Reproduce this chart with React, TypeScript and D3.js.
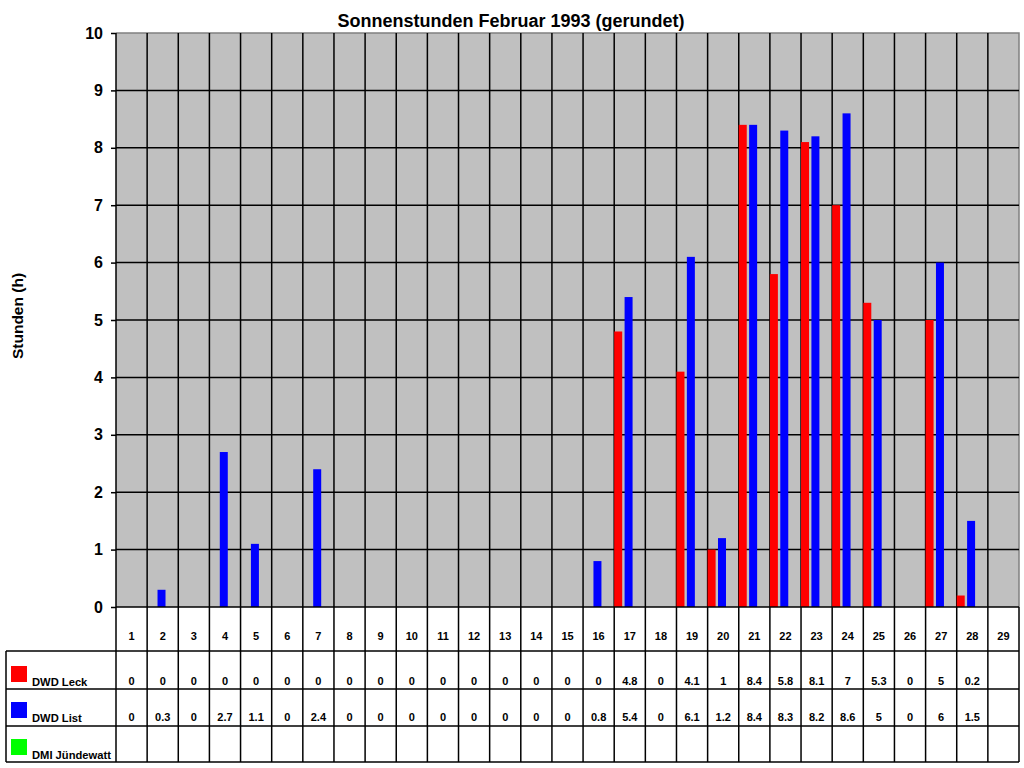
import React, { useEffect, useRef } from 'react';
import * as d3 from 'd3';

const days = ['1','2','3','4','5','6','7','8','9','10','11','12','13','14','15','16','17','18','19','20','21','22','23','24','25','26','27','28','29'];
const leck: (number | null)[] = [0,0,0,0,0,0,0,0,0,0,0,0,0,0,0,0,4.8,0,4.1,1,8.4,5.8,8.1,7,5.3,0,5,0.2,null];
const list: (number | null)[] = [0,0.3,0,2.7,1.1,0,2.4,0,0,0,0,0,0,0,0,0.8,5.4,0,6.1,1.2,8.4,8.3,8.2,8.6,5,0,6,1.5,null];
const jundewatt: (number | null)[] = days.map(() => null);

const seriesNames = ['DWD Leck', 'DWD List', 'DMI Jündewatt'];
const seriesColors = ['#ff0000', '#0000ff', '#00ff00'];
const seriesValues = [leck, list, jundewatt];
const yTicks = [0,1,2,3,4,5,6,7,8,9,10];

const FONT = 'Arial, "Liberation Sans", sans-serif';

const App: React.FC = () => {
  const svgRef = useRef<SVGSVGElement>(null);

  useEffect(() => {
    if (!svgRef.current) return;
    const svg = d3.select(svgRef.current);
    svg.selectAll('*').remove();

    const left = 116, right = 1019, top = 33, bottom = 607;
    const rowLines = [651, 689, 726, 762];
    const tableLeft = 6;

    const x = d3.scaleBand().domain(days).range([left, right]).padding(0);
    const cw = x.bandwidth();
    const sub = d3.scaleBand().domain(seriesNames).range([0, cw]).padding(0);
    const barW = sub.bandwidth() * 0.77;
    const y = d3.scaleLinear().domain([0, 10]).range([bottom, top]);

    // plot background
    svg.append('rect')
      .attr('x', left).attr('y', top)
      .attr('width', right - left).attr('height', bottom - top)
      .attr('fill', '#c0c0c0');

    // frame top/right (gray)
    svg.append('path')
      .attr('d', `M${left},${top}H${right}V${bottom}`)
      .attr('fill', 'none').attr('stroke', '#808080').attr('stroke-width', 1.5);

    // horizontal gridlines
    svg.append('g').selectAll('line')
      .data(yTicks.slice(1, -1))
      .enter().append('line')
      .attr('x1', left).attr('x2', right)
      .attr('y1', d => y(d)).attr('y2', d => y(d))
      .attr('stroke', '#000').attr('stroke-width', 1.5);

    // vertical gridlines (through plot and table)
    svg.append('g').selectAll('line')
      .data(days.slice(1))
      .enter().append('line')
      .attr('x1', d => x(d)!).attr('x2', d => x(d)!)
      .attr('y1', top).attr('y2', rowLines[3])
      .attr('stroke', '#000').attr('stroke-width', 1.5);

    // bars
    seriesValues.forEach((vals, si) => {
      svg.append('g').selectAll('rect')
        .data(vals.map((v, i) => ({ day: days[i], v })).filter(d => d.v !== null && d.v > 0))
        .enter().append('rect')
        .attr('x', d => x(d.day)! + sub(seriesNames[si])!)
        .attr('y', d => y(d.v as number))
        .attr('width', barW)
        .attr('height', d => bottom - y(d.v as number))
        .attr('fill', seriesColors[si]);
    });

    // y axis
    const yAxis = svg.append('g')
      .attr('transform', `translate(${left},0)`)
      .call(d3.axisLeft(y).tickValues(yTicks).tickSize(5).tickPadding(8).tickFormat(d3.format('d')));
    yAxis.select('.domain').attr('stroke', '#000').attr('stroke-width', 1.5).attr('d', `M0,${top}V${bottom}`);
    yAxis.selectAll('line').attr('stroke', '#000').attr('stroke-width', 1.5);
    yAxis.selectAll('text')
      .attr('font-family', FONT).attr('font-size', '16px').attr('font-weight', 'bold').attr('fill', '#000');

    // bottom axis line
    svg.append('line')
      .attr('x1', left).attr('x2', right).attr('y1', bottom).attr('y2', bottom)
      .attr('stroke', '#000').attr('stroke-width', 1.5);

    // table frame
    svg.append('line').attr('x1', left).attr('x2', left).attr('y1', bottom).attr('y2', rowLines[3])
      .attr('stroke', '#000').attr('stroke-width', 1.5);
    svg.append('line').attr('x1', right).attr('x2', right).attr('y1', bottom).attr('y2', rowLines[3])
      .attr('stroke', '#000').attr('stroke-width', 1.5);
    svg.append('line').attr('x1', tableLeft).attr('x2', tableLeft).attr('y1', rowLines[0]).attr('y2', rowLines[3])
      .attr('stroke', '#000').attr('stroke-width', 1.5);
    rowLines.forEach(ry => {
      svg.append('line').attr('x1', tableLeft).attr('x2', right).attr('y1', ry).attr('y2', ry)
        .attr('stroke', '#000').attr('stroke-width', 1.5);
    });

    // day labels
    svg.append('g').selectAll('text')
      .data(days)
      .enter().append('text')
      .attr('x', d => x(d)! + cw / 2)
      .attr('y', 640)
      .attr('text-anchor', 'middle')
      .attr('font-family', FONT).attr('font-size', '11px').attr('font-weight', 'bold')
      .text(d => d);

    // table values and legend
    const baselines = [685, 721, 758];
    seriesValues.forEach((vals, si) => {
      svg.append('g').selectAll('text')
        .data(vals.map((v, i) => ({ day: days[i], v })).filter(d => d.v !== null))
        .enter().append('text')
        .attr('x', d => x(d.day)! + cw / 2)
        .attr('y', baselines[si])
        .attr('text-anchor', 'middle')
        .attr('font-family', FONT).attr('font-size', '11px').attr('font-weight', 'bold')
        .text(d => String(d.v));

      svg.append('rect')
        .attr('x', 11).attr('y', baselines[si] - 19)
        .attr('width', 16).attr('height', 16)
        .attr('fill', seriesColors[si]);
      svg.append('text')
        .attr('x', 32).attr('y', baselines[si] + 1)
        .attr('font-family', FONT).attr('font-size', '11.2px').attr('font-weight', 'bold')
        .text(seriesNames[si]);
    });

    // title
    svg.append('text')
      .attr('x', 511).attr('y', 27)
      .attr('text-anchor', 'middle')
      .attr('font-family', FONT).attr('font-size', '18px').attr('font-weight', 'bold')
      .text('Sonnenstunden Februar 1993 (gerundet)');

    // y title
    svg.append('text')
      .attr('transform', `translate(23,${316}) rotate(-90)`)
      .attr('text-anchor', 'middle')
      .attr('font-family', FONT).attr('font-size', '15.5px').attr('font-weight', 'bold')
      .text('Stunden (h)');
  }, []);

  return (
    <svg
      ref={svgRef}
      width={1024}
      height={768}
      style={{ position: 'absolute', left: 0, top: 0, display: 'block', background: '#fff' }}
    />
  );
};

export default App;
